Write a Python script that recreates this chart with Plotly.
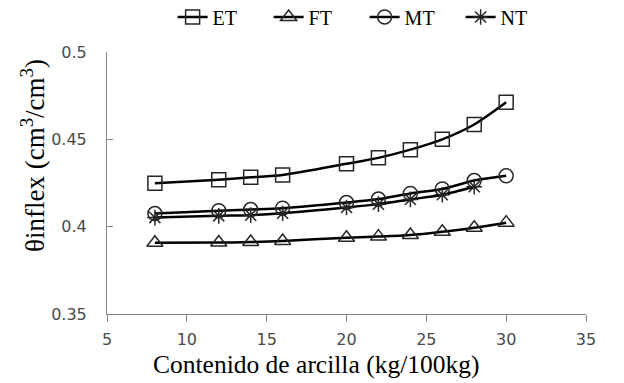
import plotly.graph_objects as go

x_clay = [8, 12, 14, 16, 20, 22, 24, 26, 28, 30]
et = [0.4248, 0.4269, 0.4283, 0.4296, 0.4360, 0.4394, 0.4441, 0.4500, 0.4585, 0.4712]
ft = [0.3908, 0.3909, 0.3912, 0.3918, 0.3937, 0.3943, 0.3952, 0.3971, 0.3994, 0.4023]
mt = [0.4075, 0.4091, 0.4098, 0.4106, 0.4138, 0.4158, 0.4190, 0.4216, 0.4264, 0.4291]
x_nt = [8, 12, 14, 16, 20, 22, 24, 26, 28]
nt = [0.4052, 0.4062, 0.4066, 0.4077, 0.4110, 0.4129, 0.4156, 0.4183, 0.4229]

x_ticks = [5, 10, 15, 20, 25, 30, 35]
y_ticks = [0.35, 0.4, 0.45, 0.5]
y_tick_labels = ["0.35", "0.4", "0.45", "0.5"]

series = [
    ("ET", x_clay, et, "square-open", 14),
    ("FT", x_clay, ft, "triangle-up-open", 14),
    ("MT", x_clay, mt, "circle-open", 14),
    ("NT", x_nt, nt, "asterisk-open", 13),
]

fig = go.Figure()
for name, xs, ys, sym, sz in series:
    fig.add_trace(go.Scatter(
        x=xs, y=ys, name=name, mode="lines+markers",
        line=dict(color="#000000", width=2.5, shape="spline", smoothing=0.8),
        marker=dict(symbol=sym, size=sz, color="#262626",
                    line=dict(color="#262626", width=1.5)),
    ))

serif = "Liberation Serif, Times New Roman, serif"
tick_font = dict(family="DejaVu Sans, sans-serif", size=16, color="#4a4a4a")

# page body has an 8px margin; figure offset accounted for in the margins
W, H = 608, 375
L, R, T, B = 99, 30, 44, 69
pw, ph = W - L - R, H - T - B

fig.update_layout(
    width=W, height=H,
    margin=dict(l=L, r=R, t=T, b=B, autoexpand=False),
    paper_bgcolor="white", plot_bgcolor="white",
    showlegend=True,
    legend=dict(orientation="h", x=0.137, xanchor="left", y=(H - B - 9) / ph, yanchor="middle",
                font=dict(family=serif, size=20, color="#000000"),
                entrywidth=51, bgcolor="rgba(0,0,0,0)"),
    xaxis=dict(range=[5, 35], tickvals=x_ticks, ticks="outside", ticklen=7,
               tickcolor="#868686", showline=True, linecolor="#868686", linewidth=1,
               showgrid=False, zeroline=False, tickfont=tick_font,
               ticklabelstandoff=4, automargin=False),
    yaxis=dict(range=[0.35, 0.5], tickvals=y_ticks, ticktext=y_tick_labels,
               ticks="inside", ticklen=6, tickcolor="#868686", showline=True,
               linecolor="#868686", linewidth=1, showgrid=False, zeroline=False,
               tickfont=tick_font, ticklabelstandoff=16, automargin=False),
    annotations=[
        dict(text="Contenido de arcilla (kg/100kg)", xref="paper", yref="paper",
             x=(308 - L) / pw, y=(H - B - 356) / ph, xanchor="center", yanchor="middle",
             showarrow=False, font=dict(family=serif, size=25.5, color="#000000")),
        dict(text="θinflex (cm<sup>3</sup>/cm<sup>3</sup>)", xref="paper", yref="paper",
             x=(25 - L) / pw, y=(H - B - 148) / ph, xanchor="center", yanchor="middle",
             textangle=-90, showarrow=False,
             font=dict(family=serif, size=27, color="#000000")),
    ],
)

fig.write_html("out.html")
